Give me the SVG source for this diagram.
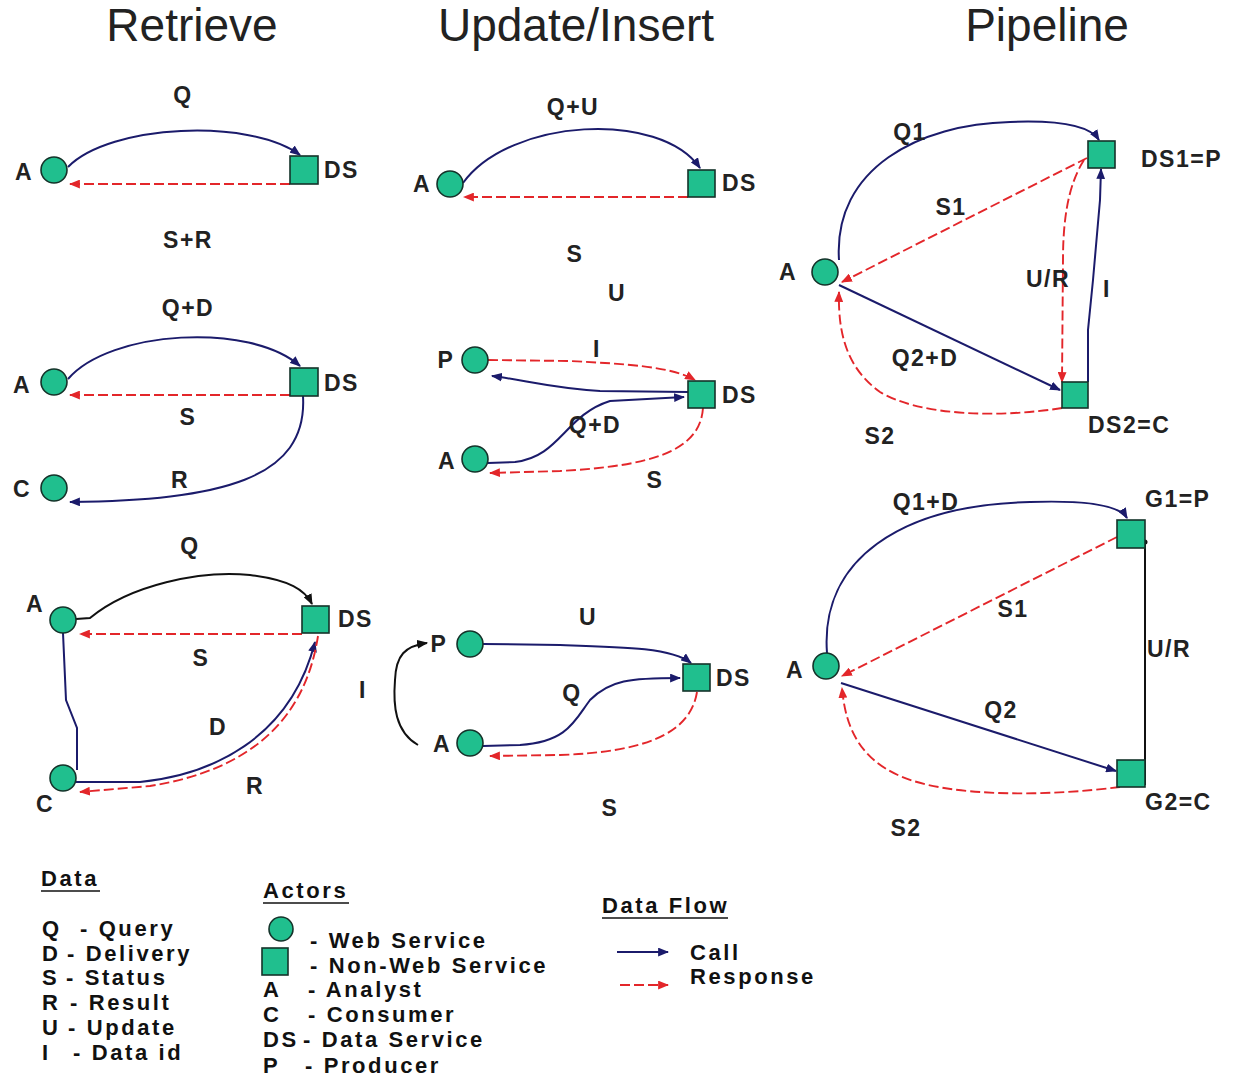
<svg xmlns="http://www.w3.org/2000/svg" width="1236" height="1078" viewBox="0 0 1236 1078">
<style>
.title{font-family:"Liberation Sans",Arial,sans-serif;font-size:46px;fill:#222}
.lbl{font-family:"Liberation Sans",Arial,sans-serif;font-size:23px;font-weight:bold;fill:#222;letter-spacing:1.5px}
.mid{text-anchor:middle}
.leg{font-family:"Liberation Sans",Arial,sans-serif;font-size:22px;font-weight:bold;fill:#111;letter-spacing:2.6px}
.nd{fill:#20bf8e;stroke:#15332a;stroke-width:1.6}
.call{fill:none;stroke:#1b1b6b;stroke-width:2;marker-end:url(#ab)}
.plain{fill:none;stroke:#1b1b6b;stroke-width:2}
.resp{fill:none;stroke:#e3262a;stroke-width:1.9;stroke-dasharray:10 4;marker-end:url(#ar)}
.blk{fill:none;stroke:#111;stroke-width:2;marker-end:url(#ak)}
</style>
<defs>
<marker id="ab" viewBox="0 0 10 8" refX="9" refY="4" markerWidth="11" markerHeight="9" markerUnits="userSpaceOnUse" orient="auto"><path d="M0,0 L10,4 L0,8 z" fill="#1b1b6b"/></marker>
<marker id="ar" viewBox="0 0 10 8" refX="9" refY="4" markerWidth="11" markerHeight="9" markerUnits="userSpaceOnUse" orient="auto"><path d="M0,0 L10,4 L0,8 z" fill="#e3262a"/></marker>
<marker id="ak" viewBox="0 0 10 8" refX="9" refY="4" markerWidth="11" markerHeight="9" markerUnits="userSpaceOnUse" orient="auto"><path d="M0,0 L10,4 L0,8 z" fill="#111"/></marker>
</defs>
<rect width="1236" height="1078" fill="#fff"/>

<g id="titles">
<text class="title mid" x="192" y="41">Retrieve</text>
<text class="title mid" x="576" y="41">Update/Insert</text>
<text class="title mid" x="1047" y="41">Pipeline</text>
</g>

<g id="connectors">
<!-- R1 -->
<path class="call" d="M68,167 C110,124 250,118 300,155"/>
<path class="resp" d="M290,184 L70,184"/>
<!-- R2 -->
<path class="call" d="M68,379 C110,330 250,322 300,366"/>
<path class="resp" d="M290,395 L70,395"/>
<path class="call" d="M303,396 C308,480 220,500 70,502"/>
<!-- R3 -->
<path class="blk" d="M76,619 L90,618 C130,585 200,570 250,575 C290,580 305,590 312,604"/>
<path class="resp" d="M302,634 L80,634"/>
<path class="plain" d="M63,633 L66,700 L77,728 L77,770"/>
<path class="call" d="M76,782 L140,782 C210,775 290,740 315,642"/>
<path class="resp" d="M318,636 C305,720 250,770 150,786 L80,792"/>
<!-- U1 -->
<path class="call" d="M463,183 C510,118 660,110 700,168"/>
<path class="resp" d="M688,197 L464,197"/>
<!-- U2 -->
<path class="resp" d="M488,360 L570,361 C625,364 670,366 695,380"/>
<path class="call" d="M688,392 L600,391 C550,388 525,380 492,376"/>
<path class="call" d="M488,463 L515,462 C560,457 565,415 610,401 L684,397"/>
<path class="resp" d="M703,408 C700,452 650,466 560,471 L490,473"/>
<!-- U3 -->
<path class="call" d="M483,644 L560,645 C625,647 672,648 691,663"/>
<path class="call" d="M483,746 L520,745 C568,742 575,720 590,700 C610,680 630,678 680,678"/>
<path class="resp" d="M697,692 C690,736 640,752 560,755 L490,756"/>
<path class="blk" d="M418,745 C395,732 393,705 395,680 C396,655 405,646 427,643"/>
<!-- P1 -->
<path class="call" d="M839,260 C833,168 920,124 1010,122 C1060,120 1090,126 1099,140"/>
<path class="resp" d="M1087,158 L842,282"/>
<path class="resp" d="M1084,160 C1068,185 1063,220 1063,260 L1062,382"/>
<path class="call" d="M1088,382 L1088,330 L1093,280 L1100,200 L1101,169"/>
<path class="call" d="M839,285 L1060,390"/>
<path class="resp" d="M1062,408 C1000,418 920,416 880,392 C845,367 838,330 839,292"/>
<!-- P2 -->
<path class="call" d="M827,653 C820,560 900,505 1030,502 C1090,500 1120,506 1127,518"/>
<path class="resp" d="M1117,537 L842,676"/>
<path d="M1145,542 L1145,785" fill="none" stroke="#111" stroke-width="2"/>
<circle cx="1145" cy="542" r="2.5" fill="#111"/>
<path class="call" d="M841,683 L1116,771"/>
<path class="resp" d="M1120,787 C1050,796 950,798 900,776 C856,757 845,722 842,688"/>
</g>

<g id="labels">
<text class="lbl mid" x="183" y="103">Q</text>
<text class="lbl mid" x="188" y="248">S+R</text>
<text class="lbl mid" x="188" y="316">Q+D</text>
<text class="lbl mid" x="188" y="425">S</text>
<text class="lbl mid" x="180" y="488">R</text>
<text class="lbl mid" x="190" y="554">Q</text>
<text class="lbl mid" x="201" y="666">S</text>
<text class="lbl mid" x="218" y="735">D</text>
<text class="lbl mid" x="255" y="794">R</text>
<text class="lbl mid" x="573" y="115">Q+U</text>
<text class="lbl mid" x="575" y="262">S</text>
<text class="lbl mid" x="617" y="301">U</text>
<text class="lbl mid" x="597" y="357">I</text>
<text class="lbl mid" x="595" y="433">Q+D</text>
<text class="lbl mid" x="655" y="488">S</text>
<text class="lbl mid" x="588" y="625">U</text>
<text class="lbl mid" x="572" y="701">Q</text>
<text class="lbl mid" x="610" y="816">S</text>
<text class="lbl mid" x="363" y="698">I</text>
<text class="lbl mid" x="910" y="140">Q1</text>
<text class="lbl mid" x="951" y="215">S1</text>
<text class="lbl mid" x="1048" y="287">U/R</text>
<text class="lbl mid" x="1107" y="297">I</text>
<text class="lbl mid" x="925" y="366">Q2+D</text>
<text class="lbl mid" x="880" y="444">S2</text>
<text class="lbl mid" x="926" y="510">Q1+D</text>
<text class="lbl mid" x="1013" y="617">S1</text>
<text class="lbl" x="1147" y="657">U/R</text>
<text class="lbl mid" x="1001" y="718">Q2</text>
<text class="lbl mid" x="906" y="836">S2</text>
</g>

<g id="r1-A"><circle class="nd" cx="54" cy="170" r="13"/><text class="lbl mid" x="24" y="180">A</text></g>
<g id="r1-DS"><rect class="nd" x="290" y="156" width="28" height="28"/><text class="lbl" x="324" y="178">DS</text></g>
<g id="r2-A"><circle class="nd" cx="54" cy="382" r="13"/><text class="lbl mid" x="22" y="393">A</text></g>
<g id="r2-DS"><rect class="nd" x="290" y="368" width="28" height="28"/><text class="lbl" x="324" y="391">DS</text></g>
<g id="r2-C"><circle class="nd" cx="54" cy="488" r="13"/><text class="lbl mid" x="22" y="497">C</text></g>
<g id="r3-A"><circle class="nd" cx="63" cy="620" r="13"/><text class="lbl mid" x="35" y="612">A</text></g>
<g id="r3-DS"><rect class="nd" x="302" y="606" width="27" height="27"/><text class="lbl" x="338" y="627">DS</text></g>
<g id="r3-C"><circle class="nd" cx="63" cy="778" r="13"/><text class="lbl mid" x="45" y="812">C</text></g>

<g id="u1-A"><circle class="nd" cx="450" cy="184" r="13"/><text class="lbl mid" x="422" y="192">A</text></g>
<g id="u1-DS"><rect class="nd" x="688" y="170" width="27" height="27"/><text class="lbl" x="722" y="191">DS</text></g>
<g id="u2-P"><circle class="nd" cx="475" cy="360" r="13"/><text class="lbl mid" x="446" y="368">P</text></g>
<g id="u2-A"><circle class="nd" cx="475" cy="459" r="13"/><text class="lbl mid" x="447" y="469">A</text></g>
<g id="u2-DS"><rect class="nd" x="688" y="381" width="27" height="27"/><text class="lbl" x="722" y="403">DS</text></g>
<g id="u3-P"><circle class="nd" cx="470" cy="644" r="13"/><text class="lbl mid" x="439" y="652">P</text></g>
<g id="u3-A"><circle class="nd" cx="470" cy="743" r="13"/><text class="lbl mid" x="442" y="752">A</text></g>
<g id="u3-DS"><rect class="nd" x="683" y="664" width="27" height="27"/><text class="lbl" x="716" y="686">DS</text></g>

<g id="p1-A"><circle class="nd" cx="825" cy="272" r="13"/><text class="lbl mid" x="788" y="280">A</text></g>
<g id="p1-DS1"><rect class="nd" x="1088" y="141" width="27" height="27"/><text class="lbl" x="1141" y="167">DS1=P</text></g>
<g id="p1-DS2"><rect class="nd" x="1062" y="382" width="26" height="26"/><text class="lbl" x="1088" y="433">DS2=C</text></g>
<g id="p2-A"><circle class="nd" cx="826" cy="666" r="13"/><text class="lbl mid" x="795" y="678">A</text></g>
<g id="p2-G1"><rect class="nd" x="1117" y="520" width="28" height="28"/><text class="lbl" x="1145" y="507">G1=P</text></g>
<g id="p2-G2"><rect class="nd" x="1117" y="760" width="28" height="27"/><text class="lbl" x="1145" y="810">G2=C</text></g>

<g id="legend-data">
<text class="leg" x="41" y="886">Data</text>
<line x1="41" y1="891" x2="100" y2="891" stroke="#111" stroke-width="1.5"/>
<text class="leg" x="42" y="936">Q</text><text class="leg" x="80" y="936">- Query</text>
<text class="leg" x="42" y="961">D</text><text class="leg" x="67" y="961">- Delivery</text>
<text class="leg" x="42" y="985">S</text><text class="leg" x="66" y="985">- Status</text>
<text class="leg" x="42" y="1010">R</text><text class="leg" x="70" y="1010">- Result</text>
<text class="leg" x="42" y="1035">U</text><text class="leg" x="68" y="1035">- Update</text>
<text class="leg" x="42" y="1060">I</text><text class="leg" x="73" y="1060">- Data id</text>
</g>

<g id="legend-actors">
<text class="leg" x="263" y="898">Actors</text>
<line x1="263" y1="903" x2="349" y2="903" stroke="#111" stroke-width="1.5"/>
<circle class="nd" cx="281" cy="929" r="12"/>
<rect class="nd" x="262" y="948" width="26" height="27"/>
<text class="leg" x="310" y="948">- Web Service</text>
<text class="leg" x="310" y="973">- Non-Web Service</text>
<text class="leg" x="263" y="997">A</text><text class="leg" x="308" y="997">- Analyst</text>
<text class="leg" x="263" y="1022">C</text><text class="leg" x="308" y="1022">- Consumer</text>
<text class="leg" x="263" y="1047">DS</text><text class="leg" x="303" y="1047">- Data Service</text>
<text class="leg" x="263" y="1073">P</text><text class="leg" x="305" y="1073">- Producer</text>
</g>

<g id="legend-flow">
<text class="leg" x="602" y="913">Data Flow</text>
<line x1="602" y1="918" x2="728" y2="918" stroke="#111" stroke-width="1.5"/>
<path class="call" d="M617,952 L668,952"/>
<path class="resp" d="M620,985 L668,985"/>
<text class="leg" x="690" y="960">Call</text>
<text class="leg" x="690" y="984">Response</text>
</g>
</svg>
